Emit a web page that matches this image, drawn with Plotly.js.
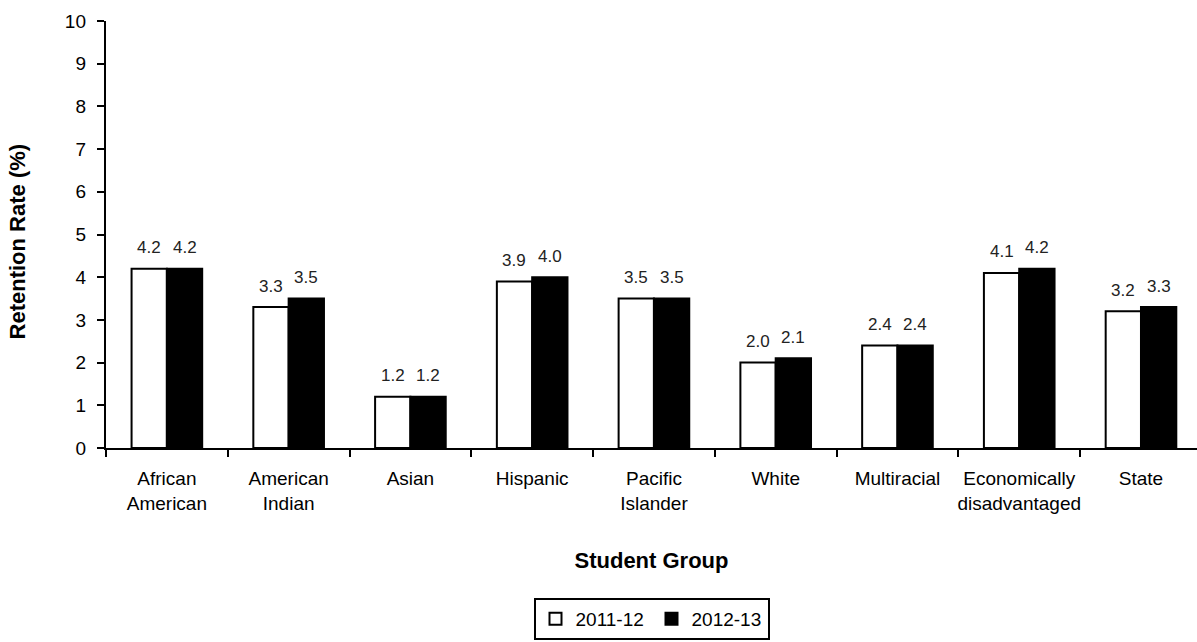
<!DOCTYPE html>
<html>
<head>
<meta charset="utf-8">
<script src="https://cdn.plot.ly/plotly-3.0.1.min.js"></script>
<style>html,body{margin:0;padding:0;background:#fff;}#chart{width:1197px;height:642px;}</style>
</head>
<body>
<div id="chart"></div>
<script>
const categories = ["African<br>American", "American<br>Indian", "Asian", "Hispanic", "Pacific<br>Islander", "White", "Multiracial", "Economically<br>disadvantaged", "State"];
const series2011 = [4.2, 3.3, 1.2, 3.9, 3.5, 2.0, 2.4, 4.1, 3.2];
const series2012 = [4.2, 3.5, 1.2, 4.0, 3.5, 2.1, 2.4, 4.2, 3.3];
const seriesNames = ["2011-12", "2012-13"];
const yTicks = [0,1,2,3,4,5,6,7,8,9,10];

const FONT = '"Liberation Sans", Arial, sans-serif';

const mk = (name, vals, fill) => ({
  type: 'bar', name: name, x: categories, y: vals,
  marker: {color: fill, line: {color: '#000', width: 2}},
  hoverinfo: 'x+y'
});

const data = [
  mk(seriesNames[0], series2011, '#fff'),
  mk(seriesNames[1], series2012, '#000'),
  // invisible carrier so the label-only overlay axes get drawn
  {type: 'scatter', mode: 'markers', x: categories.map((c, i) => i), y: series2011,
   xaxis: 'x2', yaxis: 'y2', marker: {opacity: 0}, showlegend: false, hoverinfo: 'skip'}
];

// value labels above each bar, taken from the series arrays
const labelAnn = (vals, side) => vals.map((v, i) => ({
  x: categories[i], y: v, xref: 'x', yref: 'y',
  text: v.toFixed(1), showarrow: false,
  xshift: side * 17.7, yshift: 21, yanchor: 'middle', xanchor: 'center',
  font: {family: FONT, size: 17, color: '#222'}
}));

const annotations = [
  ...labelAnn(series2011, -1),
  ...labelAnn(series2012, 1),
  {text: 'Retention Rate (%)', xref: 'paper', yref: 'paper', x: -0.0807, y: 0.4836,
   xanchor: 'center', yanchor: 'middle', textangle: -90, showarrow: false,
   font: {family: FONT, size: 22, color: '#000', weight: 'bold'}}
];

const XRANGE = [-0.5, 8.46];
const tickFont = {family: FONT, size: 19, color: '#000'};

const layout = {
  width: 1197, height: 642,
  margin: {l: 106, r: 0, t: 21, b: 194},
  paper_bgcolor: '#fff', plot_bgcolor: '#fff',
  font: {family: FONT, size: 19, color: '#000'},
  barmode: 'group', bargap: 0.42, bargroupgap: 0,
  showlegend: true,
  legend: {orientation: 'h', x: 0.5, xanchor: 'center', y: -0.351, yanchor: 'top',
           bordercolor: '#000', borderwidth: 2, font: {family: FONT, size: 19, color: '#000'},
           itemwidth: 30, entrywidth: 71, entrywidthmode: 'pixels', traceorder: 'normal'},
  annotations: annotations,
  // main axes: line + tick marks only
  xaxis: {
    range: XRANGE, showline: true, linecolor: '#000', linewidth: 2,
    ticks: 'outside', tickcolor: '#000', ticklen: 7, tickwidth: 2, tickson: 'boundaries',
    showgrid: false, zeroline: false, showticklabels: false,
    title: {text: 'Student Group', font: {family: FONT, size: 22, color: '#000', weight: 'bold'}, standoff: 104}
  },
  yaxis: {
    range: [0, 10], tickvals: yTicks, showline: true, linecolor: '#000', linewidth: 2,
    ticks: 'outside', tickcolor: '#000', ticklen: 7, tickwidth: 2,
    showgrid: false, zeroline: false, showticklabels: false
  },
  // overlay axes: tick labels only
  xaxis2: {
    overlaying: 'x', anchor: 'y', side: 'bottom', type: 'linear', range: XRANGE,
    tickmode: 'array', tickvals: categories.map((c, i) => i), ticktext: categories,
    ticks: '', showline: false, showgrid: false, zeroline: false, tickangle: 0,
    ticklabelstandoff: 17, tickfont: tickFont
  },
  yaxis2: {
    overlaying: 'y', anchor: 'x', side: 'left', range: [0, 10],
    tickmode: 'array', tickvals: yTicks, ticks: '', showline: false, showgrid: false, zeroline: false,
    ticklabelstandoff: 19, tickfont: tickFont
  }
};

Plotly.newPlot('chart', data, layout, {displayModeBar: false, staticPlot: true});
</script>
</body>
</html>
